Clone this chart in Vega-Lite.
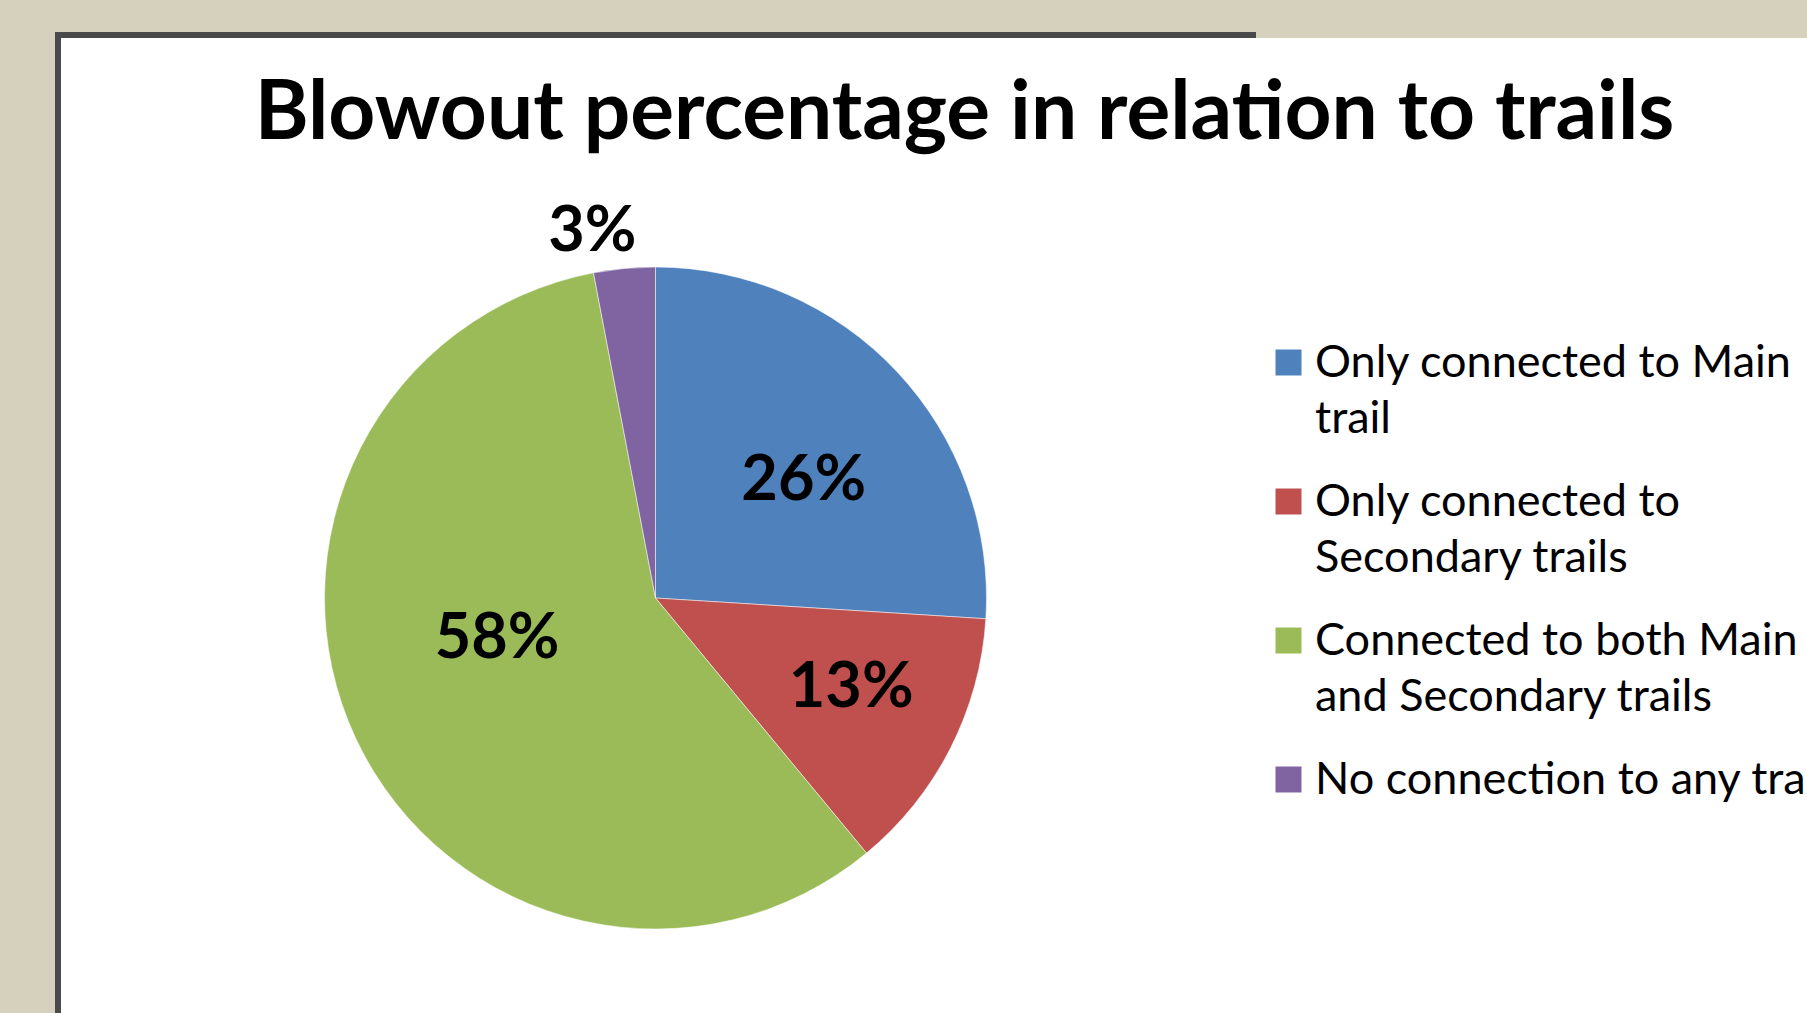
{
  "$schema": "https://vega.github.io/schema/vega-lite/v6.json",
  "background": "#d5d1bd",
  "width": 1195,
  "height": 1126,
  "padding": {"left": 58, "top": 35, "right": 554, "bottom": -148},
  "autosize": {"type": "none"},
  "view": {"fill": "#ffffff", "stroke": null},
  "title": {
    "text": "Blowout percentage in relation to trails",
    "font": "Lato",
    "fontSize": 82,
    "fontWeight": "bold",
    "color": "#000000",
    "anchor": "middle",
    "frame": "group",
    "baseline": "alphabetic",
    "offset": -189,
    "dx": 309
  },
  "data": {
    "values": [
      {"cat": "Only connected to Main trail", "share": 0.26, "rank": 1},
      {"cat": "Only connected to Secondary trails", "share": 0.13, "rank": 2},
      {"cat": "Connected to both Main and Secondary trails", "share": 0.58, "rank": 3},
      {"cat": "No connection to any trail", "share": 0.03, "rank": 4}
    ]
  },
  "layer": [
    {
      "mark": {"type": "rect", "fill": "#ffffff", "stroke": "#4a4a4a", "strokeWidth": 6},
      "encoding": {}
    },
    {
      "encoding": {
        "theta": {"field": "share", "type": "quantitative", "stack": true},
        "order": {"field": "rank", "type": "quantitative"},
        "detail": {"field": "cat", "type": "nominal"}
      },
      "layer": [
        {
          "mark": {"type": "arc", "outerRadius": 331, "stroke": "#ffffff", "strokeWidth": 1, "strokeOpacity": 0.5},
          "encoding": {
            "color": {
              "field": "cat",
              "type": "nominal",
              "scale": {
                "domain": ["Only connected to Main trail", "Only connected to Secondary trails", "Connected to both Main and Secondary trails", "No connection to any trail"],
                "range": ["#4f81bd", "#c0504d", "#9bbb59", "#8064a2"]
              },
              "legend": {
                "orient": "none",
                "legendX": 958,
                "legendY": 3,
                "padding": 250,
                "fillColor": "#ffffff",
                "strokeColor": null,
                "title": " ",
                "titleFontSize": 10,
                "titlePadding": 42,
                "symbolType": "square",
                "symbolSize": 676,
                "symbolStrokeWidth": 0,
                "symbolStrokeColor": "transparent",
                "labelFont": "Lato",
                "labelFontSize": 45,
                "labelColor": "#000000",
                "labelOffset": 4,
                "labelLimit": 1000,
                "rowPadding": 37,
                "labelExpr": "datum.label == 'Only connected to Main trail' ? ['Only connected to Main', 'trail'] : datum.label == 'Only connected to Secondary trails' ? ['Only connected to', 'Secondary trails'] : datum.label == 'Connected to both Main and Secondary trails' ? ['Connected to both Main', 'and Secondary trails'] : datum.label",
                "encoding": {
                  "labels": {"lineHeight": {"value": 56}}
                }
              }
            }
          }
        },
        {
          "mark": {"type": "text", "radius": 191, "font": "Lato", "fontSize": 63, "fontWeight": "bold", "fill": "#000000", "dx": 9, "dy": 14},
          "encoding": {"text": {"condition": {"test": "datum.rank == 1", "field": "share", "type": "quantitative", "format": ".0%"}, "value": ""}}
        },
        {
          "mark": {"type": "text", "radius": 214, "font": "Lato", "fontSize": 63, "fontWeight": "bold", "fill": "#000000", "dx": 5, "dy": -7},
          "encoding": {"text": {"condition": {"test": "datum.rank == 2", "field": "share", "type": "quantitative", "format": ".0%"}, "value": ""}}
        },
        {
          "mark": {"type": "text", "radius": 163, "font": "Lato", "fontSize": 63, "fontWeight": "bold", "fill": "#000000", "dx": -11, "dy": -28},
          "encoding": {"text": {"condition": {"test": "datum.rank == 3", "field": "share", "type": "quantitative", "format": ".0%"}, "value": ""}}
        },
        {
          "mark": {"type": "text", "radius": 375, "font": "Lato", "fontSize": 63, "fontWeight": "bold", "fill": "#000000", "dx": -28, "dy": 7},
          "encoding": {"text": {"condition": {"test": "datum.rank == 4", "field": "share", "type": "quantitative", "format": ".0%"}, "value": ""}}
        }
      ]
    }
  ]
}
